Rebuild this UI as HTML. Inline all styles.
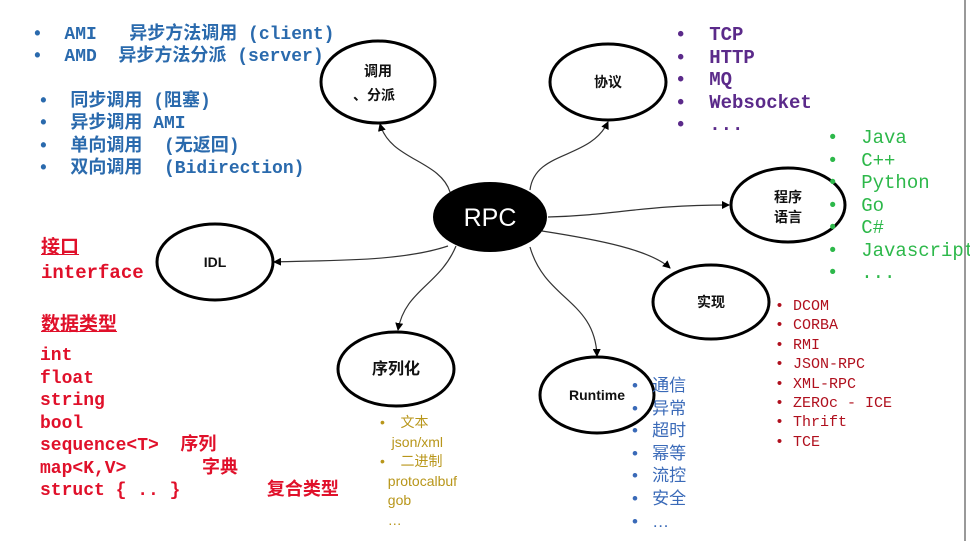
<!DOCTYPE html>
<html><head><meta charset="utf-8"><style>
html,body{margin:0;padding:0;background:#fff}
#c{position:relative;width:970px;height:541px;overflow:hidden;background:#fff}
.t{position:absolute;white-space:pre;line-height:1}
.m{font-family:"Liberation Mono","Noto Sans CJK SC",monospace}
.s{font-family:"Liberation Sans","Noto Sans CJK SC",sans-serif}
.b{font-weight:bold}
</style></head><body><div id="c">
<svg width="970" height="541" style="position:absolute;left:0;top:0">
<defs><marker id="a" markerWidth="8" markerHeight="8" refX="7" refY="4" orient="auto" markerUnits="userSpaceOnUse"><path d="M0,0 L8,4 L0,8 z" fill="#000"/></marker></defs>
<g fill="none" stroke="#333" stroke-width="1.2" marker-end="url(#a)">
<path d="M450,192 C440,160 390,160 380,124"/>
<path d="M530,190 C535,150 590,160 608,122"/>
<path d="M548,217 C620,215 640,205 729,205"/>
<path d="M448,246 C400,262 330,260 274,262"/>
<path d="M542,231 C600,240 650,250 670,268"/>
<path d="M456,246 C440,285 405,290 398,330"/>
<path d="M530,247 C545,300 595,300 597,356"/>
</g>
<line x1="965" y1="0" x2="965" y2="541" stroke="#999" stroke-width="2"/>
<g fill="#fff" stroke="#000" stroke-width="3">
<ellipse cx="378" cy="82" rx="57" ry="41"/>
<ellipse cx="608" cy="82" rx="58" ry="38"/>
<ellipse cx="788" cy="205" rx="57" ry="37"/>
<ellipse cx="215" cy="262" rx="58" ry="38"/>
<ellipse cx="711" cy="302" rx="58" ry="37"/>
<ellipse cx="396" cy="369" rx="58" ry="37"/>
<ellipse cx="597" cy="395" rx="57" ry="38"/>
</g>
<ellipse cx="490" cy="217" rx="57" ry="35" fill="#000"/>
<text x="490" y="226" fill="#fff" font-family="Liberation Sans" font-size="25" text-anchor="middle">RPC</text>
<g font-family="Liberation Sans,Noto Sans CJK SC,sans-serif" font-size="14" font-weight="bold" text-anchor="middle" fill="#111">
<text x="378" y="76">调用</text><text x="374" y="100">、分派</text>
<text x="608" y="87">协议</text>
<text x="788" y="202">程序</text><text x="788" y="222">语言</text>
<text x="215" y="267">IDL</text>
<text x="711" y="307">实现</text>
<text x="396" y="374" font-size="16">序列化</text>
<text x="597" y="400">Runtime</text>
</g>
</svg>
<div class="t m b" style="left:32px;top:24px;font-size:18px;color:#2a6aad;line-height:22px">•  AMI   异步方法调用 (client)
•  AMD  异步方法分派 (server)</div>
<div class="t m b" style="left:38px;top:91px;font-size:18px;color:#2a6aad;line-height:22.3px">•  同步调用 (阻塞)
•  异步调用 AMI
•  单向调用  (无返回)
•  双向调用  (Bidirection)</div>
<div class="t m b" style="left:675px;top:24px;font-size:19px;color:#5b2a8a;line-height:22.5px">•  TCP
•  HTTP
•  MQ
•  Websocket
•  ...</div>
<div class="t m" style="left:827px;top:127px;font-size:19px;color:#2db84a;line-height:22.5px">•  Java
•  C++
•  Python
•  Go
•  C#
•  Javascript
•  ...</div>
<div class="t m b" style="left:41px;top:236px;font-size:19px;color:#e0102a;line-height:25px"><u>接口</u>
interface</div>
<div class="t m b" style="left:41px;top:316px;font-size:19px;color:#e0102a"><u>数据类型</u></div>
<div class="t m b" style="left:40px;top:345px;font-size:18px;color:#e0102a;line-height:22.5px">int
float
string
bool
sequence&lt;T&gt;  序列
map&lt;K,V&gt;       字典
struct { .. }        复合类型</div>
<div class="t m" style="left:775px;top:297px;font-size:15px;color:#b0101e;line-height:19.4px">• DCOM
• CORBA
• RMI
• JSON-RPC
• XML-RPC
• ZEROc - ICE
• Thrift
• TCE</div>
<div class="t s" style="left:632px;top:375px;font-size:17px;color:#3a6ab8;line-height:22.6px">•   通信
•   异常
•   超时
•   幂等
•   流控
•   安全
•   …</div>
<div class="t s" style="left:380px;top:413px;font-size:14px;color:#b8961a;line-height:19.6px">•    文本
   json/xml
•    二进制
  protocalbuf
  gob
  …</div>
</div></body></html>
